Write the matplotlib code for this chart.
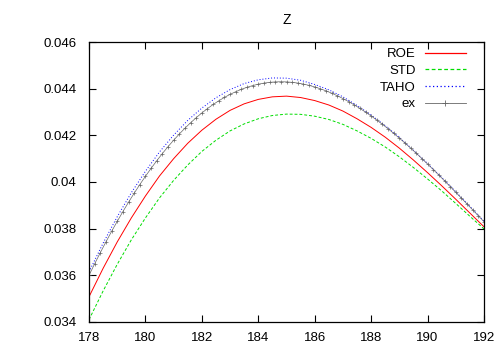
import numpy as np
import matplotlib
matplotlib.use("Agg")
import matplotlib.pyplot as plt
from matplotlib.lines import Line2D

plt.rcParams['font.family'] = ['Liberation Sans', 'DejaVu Sans']

title = "Z"
x_half = [178.0, 178.5, 179.0, 179.5, 180.0, 180.5, 181.0, 181.5, 182.0, 182.5,
          183.0, 183.5, 184.0, 184.5, 185.0, 185.5, 186.0, 186.5, 187.0, 187.5,
          188.0, 188.5, 189.0, 189.5, 190.0, 190.5, 191.0, 191.5, 192.0]
roe = [0.03508, 0.03630, 0.03743, 0.03846, 0.03940, 0.04026, 0.04100, 0.04166, 0.04222, 0.04269,
       0.04307, 0.04335, 0.04354, 0.04365, 0.04368, 0.04362, 0.04349, 0.04330, 0.04304, 0.04271,
       0.04234, 0.04192, 0.04145, 0.04094, 0.04040, 0.03984, 0.03926, 0.03867, 0.03808]
std = [0.03410, 0.03533, 0.03647, 0.03752, 0.03846, 0.03932, 0.04007, 0.04073, 0.04131, 0.04179,
       0.04219, 0.04249, 0.04271, 0.04285, 0.04291, 0.04290, 0.04282, 0.04268, 0.04247, 0.04219,
       0.04187, 0.04150, 0.04108, 0.04062, 0.04013, 0.03962, 0.03908, 0.03853, 0.03799]
taho = [0.03615, 0.03738, 0.03851, 0.03954, 0.04046, 0.04129, 0.04201, 0.04264, 0.04317, 0.04361,
        0.04396, 0.04422, 0.04438, 0.04446, 0.04445, 0.04436, 0.04418, 0.04395, 0.04365, 0.04328,
        0.04287, 0.04241, 0.04191, 0.04136, 0.04079, 0.04020, 0.03958, 0.03895, 0.03832]
ex = [0.035999, 0.036492, 0.036969, 0.037431, 0.037880, 0.038312, 0.038729, 0.039131, 0.039517, 0.039888,
      0.040244, 0.040584, 0.040909, 0.041219, 0.041514, 0.041791, 0.042055, 0.042305, 0.042538, 0.042756,
      0.042960, 0.043148, 0.043322, 0.043481, 0.043625, 0.043756, 0.043870, 0.043973, 0.044058, 0.044132,
      0.044192, 0.044238, 0.044271, 0.044290, 0.044296, 0.044290, 0.044271, 0.044240, 0.044196, 0.044141,
      0.044074, 0.043996, 0.043907, 0.043807, 0.043696, 0.043576, 0.043445, 0.043305, 0.043155, 0.042997,
      0.042830, 0.042654, 0.042472, 0.042281, 0.042083, 0.041879, 0.041669, 0.041453, 0.041230, 0.041002,
      0.040771, 0.040535, 0.040295, 0.040052, 0.039806, 0.039558, 0.039308, 0.039056, 0.038805, 0.038552,
      0.038299]
x_ex = np.linspace(178, 192, len(ex))

xticks = [178, 180, 182, 184, 186, 188, 190, 192]
yticks = [0.034, 0.036, 0.038, 0.04, 0.042, 0.044, 0.046]
ytick_labels = ["0.034", "0.036", "0.038", "0.04", "0.042", "0.044", "0.046"]
labels = ['ROE', 'STD', 'TAHO', 'ex']
colors = ['#ff0000', '#00dd00', '#0000ff', '#666666']

fig = plt.figure(figsize=(5, 3.5), dpi=100)
ax = fig.add_axes([0.178, 0.08, 0.79, 0.80])

ax.plot(x_half, roe, color=colors[0], lw=0.7)
ax.plot(x_half, std, color=colors[1], lw=0.7, ls=(0, (3, 2)))
ax.plot(x_half, taho, color=colors[2], lw=0.7, ls=(0, (1, 2)))
ax.plot(x_ex, ex, color=colors[3], lw=0.5, marker='+', ms=3.5, mew=0.5)

ax.set_xlim(178, 192)
ax.set_ylim(0.034, 0.046)
ax.set_xticks(xticks)
ax.set_xticklabels([str(v) for v in xticks])
ax.set_yticks(yticks)
ax.set_yticklabels(ytick_labels)
ax.tick_params(direction='in', length=5, width=0.8, top=True, right=True,
               labelsize=9.5)
ax.tick_params(axis='y', pad=9)
ax.tick_params(axis='x', pad=7)
for s in ax.spines.values():
    s.set_linewidth(0.9)

ax.set_title(title, fontsize=10, pad=13)

handles = [
    Line2D([], [], color=colors[0], lw=0.9),
    Line2D([], [], color=colors[1], lw=0.9, ls=(0, (3, 2))),
    Line2D([], [], color=colors[2], lw=0.9, ls=(0, (1, 2))),
    Line2D([], [], color=colors[3], lw=0.6, marker='+', ms=4, mew=0.6),
]
leg = ax.legend(handles, labels, loc='upper right', bbox_to_anchor=(0.967, 0.997),
                markerfirst=False, frameon=False, fontsize=9.5, handlelength=3.1,
                handletextpad=0.7, labelspacing=0.33, borderaxespad=0.0)
for t in leg.get_texts():
    t.set_ha('right')
leg._legend_box.align = "right"

fig.savefig("out.png", dpi=100)
